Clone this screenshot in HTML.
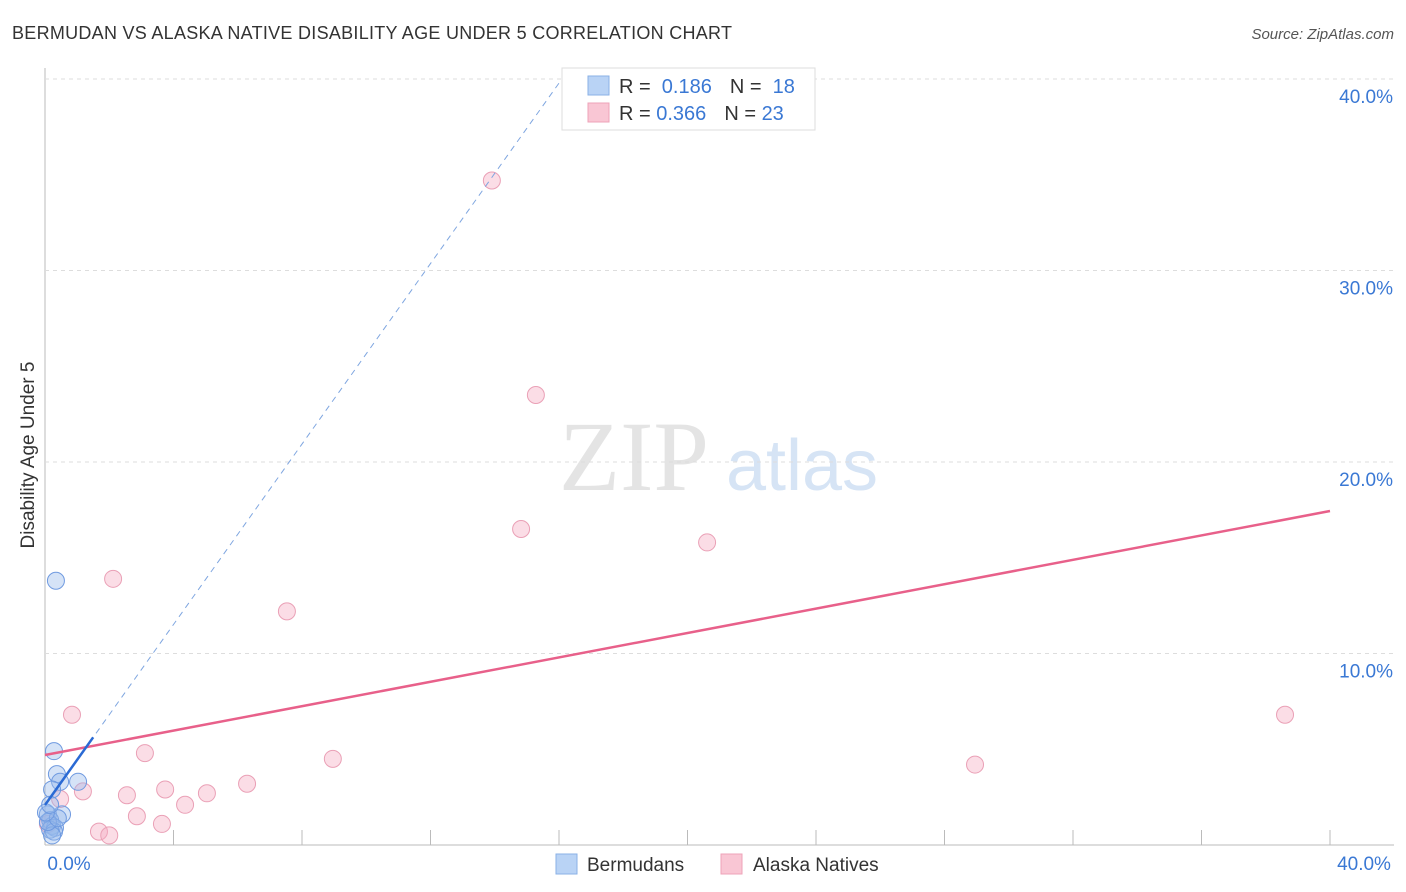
<!DOCTYPE html>
<html><head><meta charset="utf-8"><style>
body{margin:0;background:#fff;font-family:"Liberation Sans",sans-serif;}
svg{display:block}
</style></head><body>
<svg id="chart" width="1406" height="892" xmlns="http://www.w3.org/2000/svg">
<text x="12" y="39" font-size="18" fill="#333" textLength="720">BERMUDAN VS ALASKA NATIVE DISABILITY AGE UNDER 5 CORRELATION CHART</text>
<text x="1394" y="39" font-size="15" fill="#555" font-style="italic" text-anchor="end">Source: ZipAtlas.com</text>
<text x="634" y="490" font-size="100" fill="#e4e4e4" font-family="Liberation Serif,serif" text-anchor="middle">ZIP</text>
<text x="802" y="490" font-size="72" fill="#d6e4f5" text-anchor="middle">atlas</text>
<text transform="translate(34,455) rotate(-90)" font-size="19" fill="#333" text-anchor="middle">Disability Age Under 5</text>
<g id="grid"></g><g id="marks"></g>
<g>
<rect x="562" y="68" width="253" height="62" fill="#fff" stroke="#ddd"/>
<rect x="588" y="76" width="21" height="19" fill="#b9d3f5" stroke="#8ab0e6"/>
<rect x="588" y="103" width="21" height="19" fill="#f9c6d4" stroke="#eea3b8"/>
<text x="619" y="93" font-size="20" fill="#333">R = <tspan fill="#3a78d4">&#160;0.186</tspan><tspan dx="18" fill="#333">N = </tspan><tspan fill="#3a78d4">&#160;18</tspan></text>
<text x="619" y="120" font-size="20" fill="#333">R = <tspan fill="#3a78d4">0.366</tspan><tspan dx="18" fill="#333">N = </tspan><tspan fill="#3a78d4">23</tspan></text>
</g>
<g>
<rect x="556" y="854" width="21" height="20" fill="#b9d3f5" stroke="#8ab0e6"/>
<text x="587" y="871" font-size="19" fill="#333">Bermudans</text>
<rect x="721" y="854" width="21" height="20" fill="#f9c6d4" stroke="#eea3b8"/>
<text x="753" y="871" font-size="19" fill="#333">Alaska Natives</text>
</g>
</svg>
<script>
const yTicks=[10,20,30,40];
const xTickVals=[0,4,8,12,16,20,24,28,32,36,40];
const blueX=[0.34,0.28,0.37,0.47,1.03,0.22,0.53,0.09,0.16,0.22,0.31,0.16,0.28,0.22,0.09,0.40,0.03,0.16];
const blueY=[13.8,4.9,3.7,3.3,3.3,2.9,1.6,1.6,1.3,1.0,0.9,0.8,0.7,0.5,1.2,1.4,1.7,2.1];
const pinkX=[0.84,2.12,3.11,3.74,2.55,4.36,5.04,6.29,7.53,8.96,1.18,0.47,1.68,2.0,2.86,3.64,13.91,15.28,14.82,20.61,28.95,38.6,0.09];
const pinkY=[6.8,13.9,4.8,2.9,2.6,2.1,2.7,3.2,12.2,4.5,2.8,2.4,0.7,0.5,1.5,1.1,34.7,23.5,16.5,15.8,4.2,6.8,1.1];
const pinkLine=[4.7,17.44];
const blueLine=[2.09,2.356];
function X(v){return 45+v*32.125;}
function Y(v){return 845-v*19.15;}
const NS='http://www.w3.org/2000/svg';
const g=document.getElementById('grid'),m=document.getElementById('marks');
function el(t,a,p){const e=document.createElementNS(NS,t);for(const k in a)e.setAttribute(k,a[k]);p.appendChild(e);return e;}
let ax=el('line',{x1:45,y1:68,x2:45,y2:845,stroke:'#bbb'},g);


let bx=el('line',{x1:45,y1:845,x2:1394,y2:845,stroke:'#bbb'},g);


yTicks.forEach(t=>{
 let l=el('line',{x1:45,y1:Y(t),x2:1394,y2:Y(t),stroke:'#ddd','stroke-dasharray':'4,4'},g);
 
 
 let tx=el('text',{x:1393,y:Y(t)+24,'font-size':19,fill:'#3a78d4','text-anchor':'end'},g);
 tx.textContent=t.toFixed(1)+'%';
 
 
});
xTickVals.forEach(t=>{
 let l=el('line',{x1:X(t),y1:830,x2:X(t),y2:845,stroke:'#bbb'},g);
 
 
});
[[0,'0.0%',69],[40,'40.0%',1364]].forEach(a=>{
 let tx=el('text',{x:a[2],y:870,'font-size':19,fill:'#3a78d4','text-anchor':'middle'},g);
 tx.textContent=a[1];
 
 
});
pinkX.forEach((v,i)=>{
 let c=el('circle',{cx:X(v),cy:Y(pinkY[i]),r:8.5,fill:'rgba(246,170,192,0.4)',stroke:'#eaa0b6'},m);
 
 
});
blueX.forEach((v,i)=>{
 let c=el('circle',{cx:X(v),cy:Y(blueY[i]),r:8.5,fill:'rgba(150,185,235,0.4)',stroke:'#6f9ae0'},m);
 
 
});
let pl=el('line',{x1:X(0),y1:Y(pinkLine[0]),x2:X(40),y2:Y(pinkLine[1]),stroke:'#e8608a','stroke-width':2.5},m);


const xe=(40-blueLine[0])/blueLine[1];
let bd=el('line',{x1:X(0),y1:Y(blueLine[0]),x2:X(xe),y2:Y(40),stroke:'#7fa6e0','stroke-dasharray':'6,5'},m);


let bs=el('line',{x1:X(0),y1:Y(blueLine[0]),x2:X(1.5),y2:Y(blueLine[0]+blueLine[1]*1.5),stroke:'#2a6ad4','stroke-width':2.5},m);


</script>
</body></html>
